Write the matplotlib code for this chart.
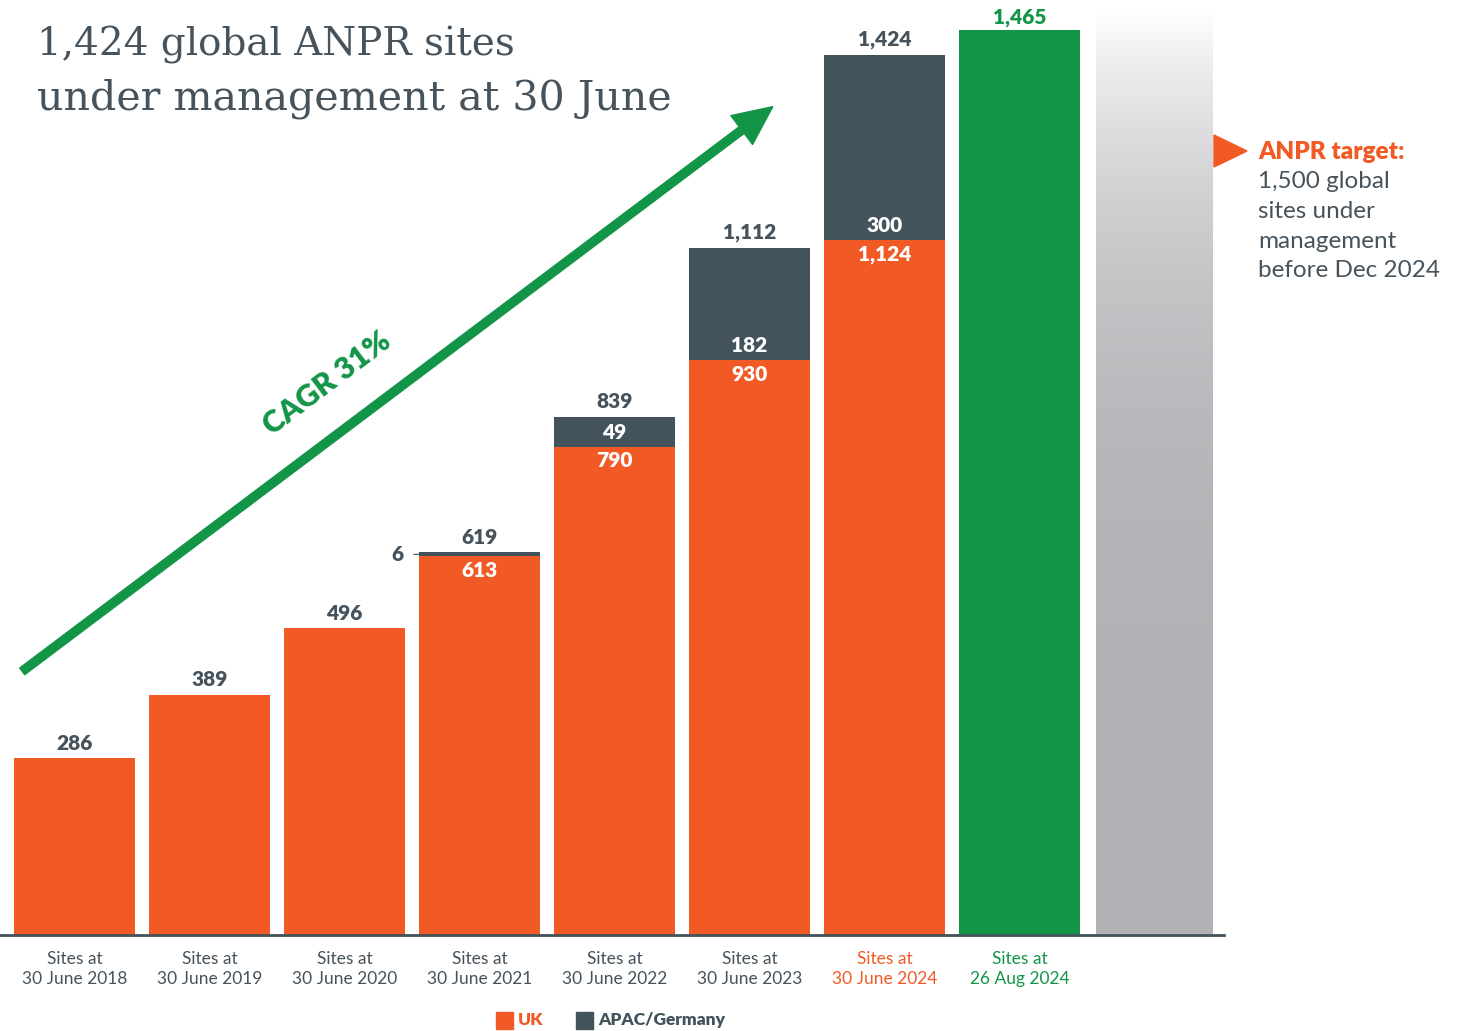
import matplotlib.pyplot as plt
import numpy as np
from matplotlib.patches import FancyArrowPatch, Polygon

# data
labels = ["Sites at\n30 June 2018", "Sites at\n30 June 2019", "Sites at\n30 June 2020",
          "Sites at\n30 June 2021", "Sites at\n30 June 2022", "Sites at\n30 June 2023",
          "Sites at\n30 June 2024", "Sites at\n26 Aug 2024"]
uk = [286, 389, 496, 613, 790, 930, 1124]
apac = [0, 0, 0, 6, 49, 182, 300]
latest = 1465
target = 1500

ORANGE = "#F15A24"
SLATE = "#42535C"
GREEN = "#139548"
TEXT = "#46535C"
SANS = ["Lato", "DejaVu Sans"]

fig = plt.figure(figsize=(14.64, 10.31), dpi=100)
W, H = 1464, 1031
ax = fig.add_axes([0, (H - 935) / H, 1224 / W, 935 / H])
ax.set_xlim(-0.552, 8.515)
ax.set_ylim(0, 1513)
for s in ["top", "right", "left"]:
    ax.spines[s].set_visible(False)
ax.spines["bottom"].set_color(SLATE)
ax.spines["bottom"].set_linewidth(2)
ax.set_yticks([])
ax.set_xticks([])

x = np.arange(len(uk))
w = 0.9
ax.bar(x, uk, width=w, color=ORANGE, zorder=2)
ax.bar(x, apac, bottom=uk, width=w, color=SLATE, zorder=2)
ax.bar(len(uk), latest, width=w, color=GREEN, zorder=2)

# target bar with fading gradient
t = np.linspace(0, 1, 400)[:, None]
g = np.array([177, 178, 181]) / 255
shade = g + (1 - g) * (t ** 4)[..., None]
shade = np.repeat(shade, 2, axis=1)
ax.imshow(shade, extent=[len(uk) + 1 - w / 2 + 0.02, len(uk) + 1 + w / 2 - 0.02, 0, target],
          origin="lower", aspect="auto", zorder=1)

nfont = dict(family=SANS, fontweight="heavy", fontsize=15)
totals = [u + a for u, a in zip(uk, apac)]
for i, (u, a, tot) in enumerate(zip(uk, apac, totals)):
    ax.annotate(f"{tot:,}", (i, tot), xytext=(0, 4), textcoords="offset points",
                ha="center", va="bottom", color=TEXT, **nfont)
    if a > 0:
        ax.annotate(f"{u:,}", (i, u), xytext=(0, -10), textcoords="offset points",
                    ha="center", va="center", color="white", **nfont)
        if a >= 20:
            ax.annotate(f"{a:,}", (i, u), xytext=(0, 10.5), textcoords="offset points",
                        ha="center", va="center", color="white", **nfont)
        else:
            ax.annotate(f"{a:,}", (i - w / 2, u + a / 2), xytext=(-15, 0),
                        textcoords="offset points", ha="center", va="center", color=TEXT,
                        arrowprops=dict(arrowstyle="-", color=TEXT, lw=0.8,
                                        shrinkA=5, shrinkB=0), **nfont)
ax.annotate(f"{latest:,}", (len(uk), latest), xytext=(0, 2), textcoords="offset points",
            ha="center", va="bottom", color=GREEN, **nfont)

# x labels
lcolors = [TEXT] * 6 + [ORANGE, GREEN]
for i, (lab, c) in enumerate(zip(labels, lcolors)):
    ax.annotate(lab, (i, 0), xytext=(0, -11.5), textcoords="offset points", ha="center",
                va="top", color=c, family=SANS, fontsize=12.5, linespacing=1.3)

# title
fig.text(37 / W, 1 - 55 / H, "1,424 global ANPR sites", family="DejaVu Serif",
         fontsize=28, color=TEXT, va="baseline")
fig.text(37 / W, 1 - 110 / H, "under management at 30 June", family="DejaVu Serif",
         fontsize=29.7, color=TEXT, va="baseline")

# CAGR arrow
arr = FancyArrowPatch((20, H - 673), (775, H - 105), transform=None,
                      arrowstyle="simple,head_length=1.4,head_width=1.3,tail_width=0.3",
                      mutation_scale=20, color=GREEN, zorder=3)
fig.add_artist(arr)
ang = np.degrees(np.arctan2(568, 755))
fig.text(327 / W, 1 - 383 / H, "CAGR 31%", rotation=ang, rotation_mode="anchor",
         ha="center", va="center", color=GREEN, family=SANS, fontweight="heavy",
         fontsize=22)

# target note
tri = Polygon([[1214 / W, 1 - 135 / H], [1214 / W, 1 - 167 / H], [1247 / W, 1 - 151 / H]],
              closed=True, transform=fig.transFigure, color=ORANGE)
fig.add_artist(tri)
fig.text(1258 / W, 1 - 152 / H, "ANPR target:", color=ORANGE, family=SANS,
         fontweight="heavy", fontsize=17.5, va="center")
for k, line in enumerate(["1,500 global", "sites under", "management", "before Dec 2024"]):
    fig.text(1258 / W, 1 - (182 + 29.5 * k) / H, line, color=TEXT, family=SANS,
             fontsize=17.5, va="center")

# legend
for x0, c, txt in [(496, ORANGE, "UK"), (576, SLATE, "APAC/Germany")]:
    fig.add_artist(plt.Rectangle((x0 / W, 2 / H), 17 / W, 17 / H, transform=fig.transFigure,
                                 color=c))
    fig.text((x0 + 22) / W, 11 / H, txt, color=c, family=SANS, fontweight="heavy",
             fontsize=12.5, va="center")

fig.savefig("out.png", dpi=100)
